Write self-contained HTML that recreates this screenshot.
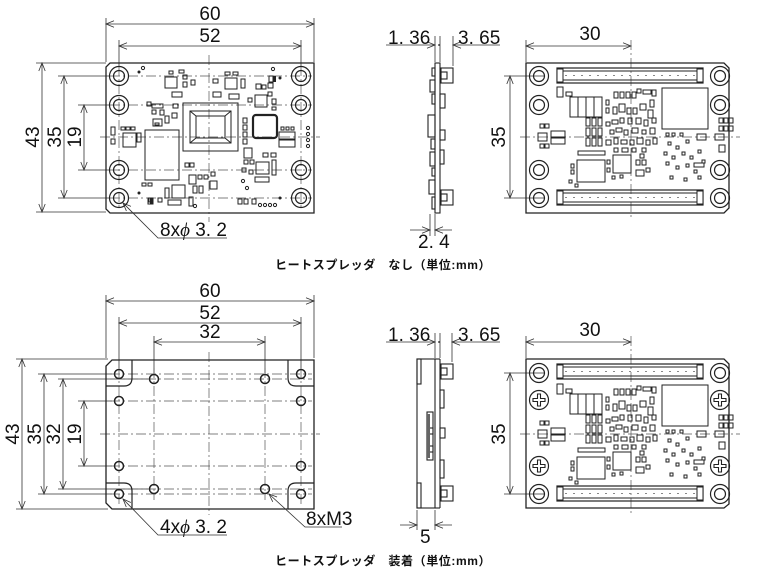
<!DOCTYPE html>
<html><head><meta charset="utf-8"><style>
html,body{margin:0;padding:0;background:#fff;}
svg{display:block;}
text{font-family:"Liberation Sans","Noto Sans CJK JP",sans-serif;fill:#111;}
.d{font-size:19px;font-family:"Liberation Sans Narrow","Liberation Sans","Noto Sans CJK JP",sans-serif;}
.cap{font-size:12px;font-weight:bold;letter-spacing:0.6px;}
</style></head><body>
<svg width="768" height="575" viewBox="0 0 768 575" xmlns="http://www.w3.org/2000/svg">
<defs>
<marker id="a" viewBox="0 0 10 10" refX="10" refY="5" markerWidth="12" markerHeight="8" orient="auto-start-reverse" markerUnits="userSpaceOnUse"><path d="M0,1 L10,5 L0,9" fill="none" stroke="#333" stroke-width="1"/></marker>
<g id="h"><circle r="9.5" fill="none" stroke="#222" stroke-width="1.2"/><circle r="5.5" fill="none" stroke="#222" stroke-width="1.2"/></g>
<g id="sm"><circle r="4.5" fill="none" stroke="#222" stroke-width="1.5"/></g>
<g id="cross"><circle r="9.5" fill="none" stroke="#222" stroke-width="1.2"/><path d="M-1.5,-6 h3 v4.5 h4.5 v3 h-4.5 v4.5 h-3 v-4.5 h-4.5 v-3 h4.5z" fill="none" stroke="#222" stroke-width="1.1"/></g>
<g id="conn"><rect x="0" y="0" width="146" height="15" fill="none" stroke="#222" stroke-width="1.2"/><rect x="3" y="3" width="140" height="9" fill="none" stroke="#222" stroke-width="1"/><line x1="8" y1="7.5" x2="138" y2="7.5" stroke="#888" stroke-width="1" stroke-dasharray="2,6"/><rect x="0" y="1" width="6" height="13" fill="#fff" stroke="#222"/><rect x="140" y="1" width="6" height="13" fill="#fff" stroke="#222"/></g>
<g id="pcb2" fill="none" stroke="#222" stroke-width="1">
<rect x="557" y="87" width="6" height="10"/><rect x="566" y="92" width="6" height="4"/>
<rect x="570" y="97" width="8" height="20"/><rect x="578" y="97" width="8" height="20"/><rect x="586" y="97" width="8" height="20"/><rect x="594" y="97" width="8" height="20"/>
<rect x="606" y="100" width="3" height="5"/><rect x="606" y="108" width="3" height="5"/>
<rect x="614" y="92" width="4" height="6"/><rect x="620" y="92" width="4" height="6"/><rect x="626" y="92" width="4" height="6"/><rect x="632" y="92" width="4" height="6"/><rect x="637" y="89" width="4" height="4"/><rect x="643" y="90" width="8" height="4"/><rect x="652" y="90" width="4" height="6"/>
<rect x="613" y="107" width="4" height="7"/><rect x="619" y="104" width="6" height="8"/><rect x="627" y="108" width="4" height="6"/><rect x="633" y="108" width="4" height="6"/><rect x="640" y="104" width="6" height="6"/><rect x="650" y="100" width="4" height="7"/><rect x="648" y="110" width="5" height="8"/>
<rect x="586" y="118" width="4" height="8"/><rect x="592" y="118" width="4" height="8"/><rect x="598" y="118" width="4" height="8"/><rect x="586" y="128" width="4" height="8"/><rect x="592" y="128" width="4" height="8"/><rect x="598" y="128" width="4" height="8"/><rect x="586" y="138" width="4" height="8"/><rect x="592" y="138" width="4" height="8"/><rect x="598" y="138" width="4" height="8"/>
<rect x="606" y="122" width="4" height="4"/><rect x="612" y="120" width="6" height="4"/><rect x="620" y="118" width="4" height="5"/><rect x="628" y="118" width="4" height="6"/><rect x="636" y="118" width="5" height="6"/><rect x="644" y="120" width="4" height="6"/><rect x="652" y="118" width="4" height="5"/>
<rect x="610" y="130" width="4" height="4"/><rect x="616" y="128" width="6" height="4"/><rect x="624" y="130" width="4" height="5"/><rect x="632" y="128" width="6" height="5"/><rect x="642" y="130" width="4" height="4"/><rect x="650" y="128" width="5" height="6"/>
<rect x="606" y="140" width="5" height="5"/><rect x="614" y="138" width="4" height="6"/><rect x="621" y="140" width="6" height="4"/><rect x="630" y="140" width="4" height="5"/><rect x="637" y="138" width="6" height="6"/><rect x="646" y="140" width="4" height="5"/><rect x="653" y="138" width="4" height="6"/>
<rect x="614" y="148" width="4" height="4"/><rect x="622" y="148" width="6" height="4"/><rect x="632" y="148" width="4" height="4"/><rect x="642" y="148" width="4" height="4"/>
<rect x="577" y="160" width="28" height="22"/><rect x="613" y="155" width="18" height="18"/>
<rect x="578" y="151" width="27" height="4"/>
<rect x="571" y="164" width="3" height="4"/><rect x="571" y="170" width="3" height="4"/><rect x="569" y="180" width="3" height="3"/><rect x="575" y="184" width="3" height="3"/>
<rect x="607" y="160" width="3" height="4"/><rect x="607" y="168" width="3" height="4"/><rect x="612" y="176" width="3" height="3"/><rect x="620" y="175" width="3" height="3"/>
<rect x="636" y="160" width="4" height="5"/><rect x="642" y="160" width="4" height="5"/><rect x="636" y="170" width="8" height="6"/><rect x="646" y="168" width="4" height="4"/><rect x="640" y="154" width="4" height="4"/>
<rect x="662" y="88" width="46" height="41"/>
<rect x="719" y="118" width="4" height="5"/><rect x="724" y="118" width="4" height="5"/><rect x="729" y="118" width="4" height="5"/><rect x="719" y="126" width="4" height="5"/><rect x="724" y="126" width="4" height="5"/><rect x="729" y="126" width="4" height="5"/>
<rect x="697" y="134" width="9" height="6"/><rect x="715" y="134" width="9" height="6"/><rect x="719" y="145" width="6" height="7"/>
<rect x="666" y="133" width="3" height="3"/><rect x="672" y="133" width="3" height="3"/><rect x="680" y="133" width="3" height="3"/><rect x="668" y="142" width="3" height="3"/><rect x="676" y="146" width="3" height="3"/><rect x="686" y="140" width="3" height="3"/><rect x="664" y="152" width="3" height="3"/><rect x="672" y="156" width="3" height="3"/><rect x="682" y="152" width="3" height="3"/><rect x="690" y="156" width="3" height="3"/><rect x="698" y="150" width="3" height="3"/><rect x="666" y="162" width="3" height="3"/><rect x="676" y="166" width="3" height="3"/><rect x="686" y="164" width="3" height="3"/><rect x="694" y="170" width="3" height="3"/><rect x="702" y="160" width="3" height="3"/><rect x="670" y="176" width="3" height="3"/><rect x="684" y="178" width="3" height="3"/><rect x="698" y="176" width="3" height="3"/><rect x="694" y="163" width="10" height="4"/>
<rect x="540" y="124" width="4" height="4"/><rect x="545" y="124" width="4" height="4"/><rect x="540" y="144" width="4" height="4"/><rect x="545" y="144" width="4" height="4"/><rect x="538" y="133" width="9" height="8"/><rect x="551" y="131" width="14" height="6"/><rect x="551" y="138" width="14" height="6"/>
</g>
</defs>

<!-- ============ TOP LEFT ============ -->
<g fill="none" stroke="#333" stroke-width="0.8">
<line x1="106" y1="62" x2="106" y2="18"/><line x1="314" y1="62" x2="314" y2="18"/>
<line x1="119" y1="66" x2="119" y2="40"/><line x1="301" y1="66" x2="301" y2="40"/>
<line x1="106" y1="24" x2="314" y2="24" marker-start="url(#a)" marker-end="url(#a)"/>
<line x1="119" y1="46" x2="301" y2="46" marker-start="url(#a)" marker-end="url(#a)"/>
<line x1="36" y1="63" x2="106" y2="63"/><line x1="36" y1="212" x2="106" y2="212"/>
<line x1="58" y1="76" x2="110" y2="76"/><line x1="58" y1="198" x2="110" y2="198"/>
<line x1="78" y1="105" x2="110" y2="105"/><line x1="78" y1="170" x2="110" y2="170"/>
<line x1="42" y1="63" x2="42" y2="212" marker-start="url(#a)" marker-end="url(#a)"/>
<line x1="64" y1="76" x2="64" y2="198" marker-start="url(#a)" marker-end="url(#a)"/>
<line x1="84" y1="105" x2="84" y2="170" marker-start="url(#a)" marker-end="url(#a)"/>
</g>
<g fill="none" stroke="#555" stroke-width="0.7" stroke-dasharray="10,3,2,3">
<line x1="209" y1="55" x2="209" y2="222"/><line x1="100" y1="137" x2="320" y2="137"/>
<line x1="110" y1="76" x2="312" y2="76"/><line x1="110" y1="105" x2="312" y2="105"/><line x1="110" y1="170" x2="312" y2="170"/><line x1="110" y1="198" x2="312" y2="198"/>
<line x1="119" y1="66" x2="119" y2="210"/><line x1="301" y1="66" x2="301" y2="210"/>
</g>
<path d="M110,63 H314 V213 H110 L106,209 V67 Z" fill="none" stroke="#222" stroke-width="1.3"/>
<use href="#h" x="119" y="76"/><use href="#h" x="119" y="105"/><use href="#h" x="119" y="170"/><use href="#h" x="119" y="198"/>
<use href="#h" x="301" y="76"/><use href="#h" x="301" y="105"/><use href="#h" x="301" y="170"/><use href="#h" x="301" y="198"/>
<g fill="none" stroke="#222" stroke-width="1">
<rect x="183" y="103" width="55" height="48"/>
<rect x="190" y="111" width="41" height="32"/><rect x="196" y="116" width="29" height="22"/>
<line x1="190" y1="111" x2="196" y2="116"/><line x1="231" y1="111" x2="225" y2="116"/><line x1="190" y1="143" x2="196" y2="138"/><line x1="231" y1="143" x2="225" y2="138"/>
<rect x="145" y="130" width="34" height="50"/>
<rect x="123" y="133" width="13" height="14"/><rect x="111" y="127" width="4" height="8"/><rect x="111" y="139" width="4" height="5"/><rect x="121" y="127" width="4" height="3"/><rect x="126" y="127" width="4" height="3"/><rect x="131" y="127" width="4" height="3"/><rect x="137" y="133" width="4" height="9"/>
<rect x="253" y="115" width="24" height="23" rx="3" stroke-width="2.2"/>
<rect x="279" y="132" width="16" height="7"/><rect x="279" y="140" width="16" height="7"/><rect x="281" y="127" width="3" height="3"/><rect x="286" y="127" width="3" height="3"/><rect x="291" y="127" width="3" height="3"/>
<rect x="165" y="77" width="12" height="11"/><rect x="169" y="71" width="4" height="3"/><rect x="179" y="70" width="5" height="3"/><rect x="183" y="75" width="4" height="4"/><rect x="183" y="82" width="4" height="5"/><rect x="191" y="80" width="4" height="5"/><rect x="172" y="92" width="10" height="5"/>
<rect x="225" y="78" width="12" height="11"/><rect x="225" y="72" width="5" height="3"/><rect x="233" y="72" width="5" height="3"/><rect x="241" y="79" width="4" height="9"/><rect x="213" y="79" width="5" height="4"/><rect x="213" y="92" width="8" height="5"/><rect x="229" y="94" width="10" height="5"/>
<rect x="255" y="95" width="12" height="12"/><rect x="248" y="98" width="4" height="4"/><rect x="256" y="84" width="5" height="5"/><rect x="262" y="85" width="4" height="4"/><rect x="268" y="83" width="5" height="5"/><rect x="268" y="92" width="4" height="4"/><rect x="272" y="99" width="4" height="5"/><rect x="272" y="107" width="4" height="3"/><rect x="269" y="76" width="4" height="6"/>
<rect x="153" y="119" width="9" height="7"/><rect x="147" y="102" width="4" height="4"/><rect x="152" y="104" width="11" height="4"/><rect x="160" y="110" width="4" height="5"/><rect x="152" y="110" width="4" height="4"/><rect x="165" y="116" width="4" height="7"/><rect x="172" y="113" width="5" height="5"/><rect x="173" y="104" width="5" height="4"/><rect x="155" y="123" width="4" height="2"/>
<rect x="243" y="118" width="4" height="5"/><rect x="243" y="125" width="4" height="5"/><rect x="243" y="132" width="4" height="5"/><rect x="243" y="139" width="4" height="5"/><rect x="244" y="148" width="8" height="10"/><rect x="244" y="160" width="4" height="4"/><rect x="250" y="160" width="4" height="4"/><rect x="242" y="168" width="4" height="4"/>
<rect x="256" y="162" width="13" height="12"/><rect x="255" y="177" width="14" height="5"/><rect x="263" y="153" width="5" height="4"/><rect x="271" y="153" width="5" height="4"/><rect x="272" y="160" width="4" height="15"/><rect x="249" y="170" width="4" height="4"/>
<rect x="172" y="185" width="13" height="13"/><rect x="165" y="188" width="4" height="10"/><rect x="189" y="175" width="7" height="9"/><rect x="198" y="175" width="4" height="4"/><rect x="204" y="175" width="4" height="4"/><rect x="193" y="186" width="4" height="7"/><rect x="199" y="186" width="4" height="7"/><rect x="210" y="181" width="7" height="8"/><rect x="211" y="172" width="4" height="4"/>
<rect x="149" y="198" width="4" height="4"/><rect x="158" y="198" width="4" height="4"/><rect x="168" y="200" width="13" height="5"/><rect x="189" y="197" width="4" height="9"/><rect x="142" y="183" width="4" height="3"/><rect x="148" y="183" width="4" height="3"/>
<rect x="238" y="199" width="4" height="5"/><rect x="244" y="199" width="4" height="5"/><rect x="252" y="199" width="4" height="5"/>
<rect x="185" y="163" width="4" height="4"/><rect x="190" y="163" width="4" height="4"/>
<circle cx="260" cy="205" r="1.6"/><circle cx="265" cy="205" r="1.6"/><circle cx="270" cy="205" r="1.6"/><circle cx="275" cy="205" r="1.6"/>
<circle cx="308" cy="128" r="1.6"/><circle cx="308" cy="134" r="1.6"/><circle cx="308" cy="140" r="1.6"/><circle cx="308" cy="146" r="1.6"/>
<circle cx="143" cy="68" r="1.6"/><circle cx="273" cy="69" r="1.6"/><circle cx="195" cy="206" r="1.6"/><circle cx="247" cy="188" r="1.6"/><circle cx="243" cy="181" r="1.6"/>
<rect x="148" y="198" width="5" height="6"/>
</g>
<g fill="#222"><circle cx="139" cy="72" r="1.5"/><circle cx="280" cy="78" r="1.5"/><circle cx="139" cy="193" r="1.5"/><circle cx="280" cy="198" r="1.5"/><rect x="150" y="198" width="3" height="6"/><rect x="273" y="76" width="3" height="6"/></g>
<polyline points="123,203 158,238 227,238" fill="none" stroke="#333" stroke-width="0.8" marker-start="url(#a)"/>
<text x="160" y="236" class="d">8x<tspan font-family="Liberation Serif,serif" font-style="italic">ϕ</tspan> 3. 2</text>
<text x="210" y="20" class="d" text-anchor="middle">60</text>
<text x="210" y="42" class="d" text-anchor="middle">52</text>
<text class="d" text-anchor="middle" transform="translate(39,137) rotate(-90)">43</text>
<text class="d" text-anchor="middle" transform="translate(61,137) rotate(-90)">35</text>
<text class="d" text-anchor="middle" transform="translate(81,137) rotate(-90)">19</text>

<!-- ============ TOP SIDE ============ -->
<g fill="none" stroke="#333" stroke-width="0.8">
<line x1="435" y1="36" x2="435" y2="62"/><line x1="440" y1="36" x2="440" y2="62"/><line x1="453" y1="36" x2="453" y2="66"/>
<line x1="386" y1="45" x2="435" y2="45" marker-end="url(#a)"/><line x1="500" y1="45" x2="453" y2="45" marker-end="url(#a)"/>
<line x1="430" y1="214" x2="430" y2="236"/><line x1="435" y1="214" x2="435" y2="236"/>
<line x1="410" y1="230" x2="430" y2="230" marker-end="url(#a)"/><line x1="452" y1="230" x2="435" y2="230" marker-end="url(#a)"/>
</g>
<circle cx="439" cy="45" r="0.9" fill="#222"/>
<g fill="none" stroke="#222" stroke-width="1.1">
<rect x="435" y="63" width="5" height="150"/>
<rect x="441" y="68" width="12" height="15"/><rect x="441" y="72" width="6" height="7"/>
<rect x="441" y="190" width="12" height="15"/><rect x="441" y="194" width="6" height="7"/>
<rect x="432" y="68" width="3" height="8"/><rect x="430" y="80" width="5" height="12"/><rect x="432" y="94" width="3" height="10"/><rect x="428" y="115" width="7" height="22"/><rect x="431" y="139" width="4" height="10"/><rect x="430" y="152" width="5" height="14"/><rect x="432" y="168" width="3" height="8"/><rect x="429" y="180" width="6" height="14"/><rect x="432" y="197" width="3" height="12"/>
<rect x="440" y="94" width="5" height="14"/><rect x="440" y="130" width="5" height="10"/><rect x="440" y="150" width="4" height="14"/>
</g>
<text x="388" y="44" class="d">1. 36</text>
<text x="458" y="44" class="d">3. 65</text>
<text x="418" y="248" class="d">2. 4</text>

<!-- ============ TOP RIGHT ============ -->
<g fill="none" stroke="#333" stroke-width="0.8">
<line x1="526" y1="40" x2="526" y2="62"/>
<line x1="526" y1="46" x2="631" y2="46" marker-start="url(#a)" marker-end="url(#a)"/>
<line x1="504" y1="76" x2="545" y2="76"/><line x1="504" y1="198" x2="545" y2="198"/>
<line x1="510" y1="76" x2="510" y2="198" marker-start="url(#a)" marker-end="url(#a)"/>
</g>
<g fill="none" stroke="#555" stroke-width="0.7" stroke-dasharray="10,3,2,3">
<line x1="631" y1="40" x2="631" y2="220"/><line x1="520" y1="137" x2="740" y2="137"/>
</g>
<path d="M526,63 H724 L729,68 V208 L724,213 H526 Z" fill="none" stroke="#222" stroke-width="1.3"/>
<use href="#h" x="539" y="76"/><use href="#h" x="539" y="105"/><use href="#h" x="539" y="170"/><use href="#h" x="539" y="198"/>
<use href="#h" x="720" y="76"/><use href="#h" x="720" y="105"/><use href="#h" x="720" y="170"/><use href="#h" x="720" y="198"/>
<use href="#conn" x="557" y="68"/><use href="#conn" x="557" y="190"/>
<use href="#pcb2"/>
<text x="590" y="40" class="d" text-anchor="middle">30</text>
<text class="d" text-anchor="middle" transform="translate(505,137) rotate(-90)">35</text>

<text x="275" y="269" class="cap">ヒートスプレッダ　なし（単位:mm）</text>

<!-- ============ BOTTOM LEFT ============ -->
<g fill="none" stroke="#333" stroke-width="0.8">
<line x1="106" y1="358" x2="106" y2="295"/><line x1="314" y1="358" x2="314" y2="295"/>
<line x1="119" y1="368" x2="119" y2="317"/><line x1="301" y1="368" x2="301" y2="317"/>
<line x1="154" y1="373" x2="154" y2="336"/><line x1="265" y1="373" x2="265" y2="336"/>
<line x1="106" y1="301" x2="314" y2="301" marker-start="url(#a)" marker-end="url(#a)"/>
<line x1="119" y1="323" x2="301" y2="323" marker-start="url(#a)" marker-end="url(#a)"/>
<line x1="154" y1="342" x2="265" y2="342" marker-start="url(#a)" marker-end="url(#a)"/>
<line x1="16" y1="359" x2="108" y2="359"/><line x1="16" y1="509" x2="108" y2="509"/>
<line x1="38" y1="374" x2="112" y2="374"/><line x1="38" y1="494" x2="112" y2="494"/>
<line x1="58" y1="379" x2="148" y2="379"/><line x1="58" y1="489" x2="148" y2="489"/>
<line x1="78" y1="401" x2="112" y2="401"/><line x1="78" y1="466" x2="112" y2="466"/>
<line x1="22" y1="359" x2="22" y2="509" marker-start="url(#a)" marker-end="url(#a)"/>
<line x1="44" y1="374" x2="44" y2="494" marker-start="url(#a)" marker-end="url(#a)"/>
<line x1="63" y1="379" x2="63" y2="489" marker-start="url(#a)" marker-end="url(#a)"/>
<line x1="84" y1="401" x2="84" y2="466" marker-start="url(#a)" marker-end="url(#a)"/>
</g>
<g fill="none" stroke="#555" stroke-width="0.7" stroke-dasharray="10,3,2,3">
<line x1="209" y1="352" x2="209" y2="515"/><line x1="100" y1="434" x2="320" y2="434"/>
<line x1="110" y1="374" x2="312" y2="374"/><line x1="110" y1="379" x2="312" y2="379"/><line x1="110" y1="401" x2="312" y2="401"/><line x1="110" y1="466" x2="312" y2="466"/><line x1="110" y1="489" x2="312" y2="489"/><line x1="110" y1="494" x2="312" y2="494"/>
<line x1="119" y1="368" x2="119" y2="505"/><line x1="154" y1="368" x2="154" y2="500"/><line x1="265" y1="368" x2="265" y2="500"/><line x1="301" y1="368" x2="301" y2="505"/>
</g>
<path d="M112,360 H314 V509 H112 L106,503 V366 Z" fill="none" stroke="#222" stroke-width="1.3"/>
<g fill="none" stroke="#222" stroke-width="1.2">
<path d="M132,360 V378 Q132,386 124,386 H106"/>
<path d="M288,360 V378 Q288,386 296,386 H314"/>
<path d="M132,509 V491 Q132,483 124,483 H106"/>
<path d="M288,509 V491 Q288,483 296,483 H314"/>
</g>
<use href="#sm" x="119" y="374"/><use href="#sm" x="301" y="374"/><use href="#sm" x="119" y="494"/><use href="#sm" x="301" y="494"/>
<use href="#sm" x="154" y="379"/><use href="#sm" x="265" y="379"/><use href="#sm" x="154" y="489"/><use href="#sm" x="265" y="489"/>
<use href="#sm" x="119" y="401"/><use href="#sm" x="301" y="401"/><use href="#sm" x="119" y="466"/><use href="#sm" x="301" y="466"/>
<polyline points="123,499 158,535 227,535" fill="none" stroke="#333" stroke-width="0.8" marker-start="url(#a)"/>
<polyline points="269,494 305,527 342,527" fill="none" stroke="#333" stroke-width="0.8" marker-start="url(#a)"/>
<text x="160" y="533" class="d">4x<tspan font-family="Liberation Serif,serif" font-style="italic">ϕ</tspan> 3. 2</text>
<text x="306" y="525" class="d">8xM3</text>
<text x="210" y="297" class="d" text-anchor="middle">60</text>
<text x="210" y="319" class="d" text-anchor="middle">52</text>
<text x="210" y="338" class="d" text-anchor="middle">32</text>
<text class="d" text-anchor="middle" transform="translate(19,434) rotate(-90)">43</text>
<text class="d" text-anchor="middle" transform="translate(41,434) rotate(-90)">35</text>
<text class="d" text-anchor="middle" transform="translate(60,434) rotate(-90)">32</text>
<text class="d" text-anchor="middle" transform="translate(81,434) rotate(-90)">19</text>

<!-- ============ BOTTOM SIDE ============ -->
<g fill="none" stroke="#333" stroke-width="0.8">
<line x1="435" y1="333" x2="435" y2="358"/><line x1="440" y1="333" x2="440" y2="358"/><line x1="452" y1="333" x2="452" y2="362"/>
<line x1="386" y1="342" x2="435" y2="342" marker-end="url(#a)"/><line x1="500" y1="342" x2="452" y2="342" marker-end="url(#a)"/>
<line x1="417" y1="510" x2="417" y2="530"/><line x1="435" y1="510" x2="435" y2="530"/>
<line x1="400" y1="525" x2="417" y2="525" marker-end="url(#a)"/><line x1="452" y1="525" x2="435" y2="525" marker-end="url(#a)"/>
</g>
<circle cx="439" cy="342" r="0.9" fill="#222"/>
<g fill="none" stroke="#222" stroke-width="1.1">
<rect x="417" y="359" width="18" height="149"/><line x1="435" y1="359" x2="440" y2="359"/><line x1="435" y1="508" x2="440" y2="508"/><line x1="440" y1="359" x2="440" y2="508"/>
<rect x="417" y="359" width="4" height="25"/><rect x="417" y="483" width="4" height="25"/>
<rect x="427" y="412" width="6" height="48"/><rect x="429" y="428" width="4" height="6"/><rect x="429" y="446" width="4" height="6"/>
<rect x="441" y="364" width="12" height="15"/><rect x="441" y="368" width="6" height="7"/>
<rect x="441" y="486" width="12" height="15"/><rect x="441" y="490" width="6" height="7"/>
<rect x="440" y="390" width="4" height="18"/><rect x="440" y="428" width="5" height="10"/><rect x="440" y="460" width="4" height="18"/>
</g>
<rect x="427" y="414" width="3" height="44" fill="#666"/>
<text x="388" y="341" class="d">1. 36</text>
<text x="458" y="341" class="d">3. 65</text>
<text x="420" y="543" class="d">5</text>

<!-- ============ BOTTOM RIGHT ============ -->
<g fill="none" stroke="#333" stroke-width="0.8">
<line x1="526" y1="336" x2="526" y2="358"/>
<line x1="526" y1="342" x2="631" y2="342" marker-start="url(#a)" marker-end="url(#a)"/>
<line x1="504" y1="373" x2="545" y2="373"/><line x1="504" y1="494" x2="545" y2="494"/>
<line x1="510" y1="373" x2="510" y2="494" marker-start="url(#a)" marker-end="url(#a)"/>
</g>
<g fill="none" stroke="#555" stroke-width="0.7" stroke-dasharray="10,3,2,3">
<line x1="631" y1="336" x2="631" y2="516"/><line x1="520" y1="434" x2="740" y2="434"/>
</g>
<path d="M526,359 H724 L729,364 V504 L724,508 H526 Z" fill="none" stroke="#222" stroke-width="1.3"/>
<use href="#h" x="539" y="373"/><use href="#cross" x="539" y="400"/><use href="#cross" x="539" y="466"/><use href="#h" x="539" y="494"/>
<use href="#h" x="720" y="373"/><use href="#cross" x="720" y="400"/><use href="#cross" x="720" y="466"/><use href="#h" x="720" y="494"/>
<use href="#conn" x="557" y="364"/><use href="#conn" x="557" y="486"/>
<use href="#pcb2" y="297"/>
<text x="590" y="336" class="d" text-anchor="middle">30</text>
<text class="d" text-anchor="middle" transform="translate(505,434) rotate(-90)">35</text>

<text x="275" y="565" class="cap">ヒートスプレッダ　装着（単位:mm）</text>
</svg>
</body></html>
